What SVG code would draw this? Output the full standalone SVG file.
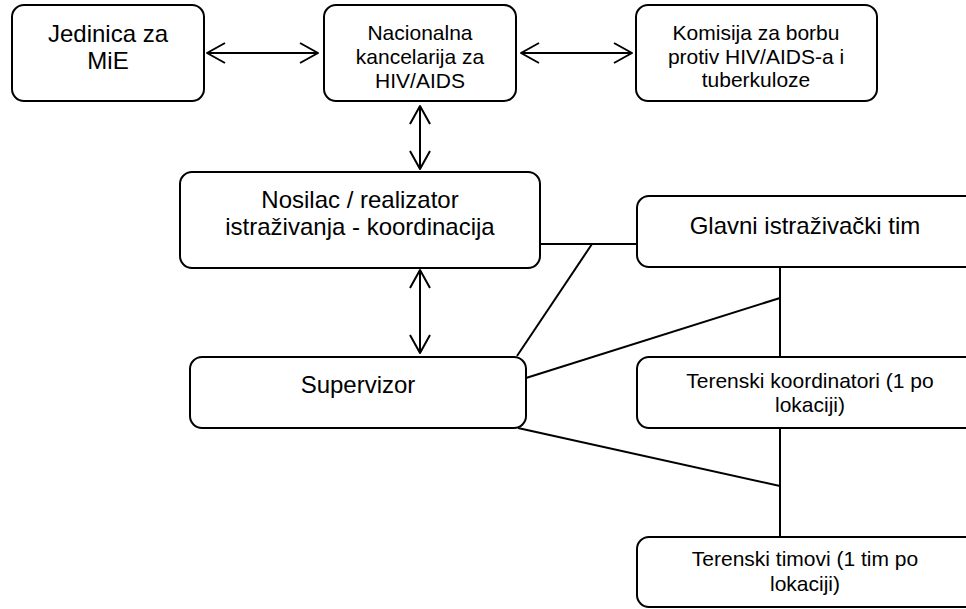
<svg xmlns="http://www.w3.org/2000/svg" width="966" height="609" viewBox="0 0 966 609">
<style>
.box{fill:#fff;stroke:#000;stroke-width:2}
.t{font-family:"Liberation Sans",Arial,sans-serif;fill:#000;text-anchor:middle}
.l{stroke:#000;stroke-width:2;fill:none}
</style>
<defs>
<marker id="arr" viewBox="0 0 22 24" refX="19" refY="12" markerWidth="22" markerHeight="24" markerUnits="userSpaceOnUse" orient="auto-start-reverse">
<path d="M1,2 L19,12 L1,22" fill="none" stroke="#000" stroke-width="2" stroke-linejoin="round"/>
</marker>
</defs>
<rect width="966" height="609" fill="#fff"/>
<g id="connectors">
<line class="l" x1="207" y1="53" x2="318" y2="53" marker-start="url(#arr)" marker-end="url(#arr)"/>
<line class="l" x1="521" y1="53" x2="632" y2="53" marker-start="url(#arr)" marker-end="url(#arr)"/>
<line class="l" x1="420" y1="106" x2="420" y2="169" marker-start="url(#arr)" marker-end="url(#arr)"/>
<line class="l" x1="420" y1="270" x2="420" y2="353" marker-start="url(#arr)" marker-end="url(#arr)"/>
<line class="l" x1="540" y1="244" x2="637" y2="244"/>
<line class="l" x1="592" y1="244" x2="517" y2="356"/>
<line class="l" x1="526" y1="378" x2="780" y2="298"/>
<line class="l" x1="780" y1="266" x2="780" y2="357"/>
<line class="l" x1="518" y1="428" x2="780" y2="486"/>
<line class="l" x1="780" y1="428" x2="780" y2="537"/>
</g>
<g id="jedinica">
<rect class="box" x="12" y="5" width="192" height="96" rx="12"/>
<text class="t" font-size="24"><tspan x="108" y="42">Jedinica za</tspan><tspan x="108" y="69">MiE</tspan></text>
</g>
<g id="nacionalna">
<rect class="box" x="324" y="5" width="192" height="96" rx="12"/>
<text class="t" font-size="21"><tspan x="420" y="40">Nacionalna</tspan><tspan x="420" y="64">kancelarija za</tspan><tspan x="420" y="88">HIV/AIDS</tspan></text>
</g>
<g id="komisija">
<rect class="box" x="636" y="5" width="241" height="96" rx="12"/>
<text class="t" font-size="21"><tspan x="756" y="40">Komisija za borbu</tspan><tspan x="756" y="63.5">protiv HIV/AIDS-a i</tspan><tspan x="756" y="87">tuberkuloze</tspan></text>
</g>
<g id="nosilac">
<rect class="box" x="180" y="172" width="360" height="96" rx="12"/>
<text class="t" font-size="24"><tspan x="360" y="208">Nosilac / realizator</tspan><tspan x="360" y="235">istraživanja - koordinacija</tspan></text>
</g>
<g id="glavni">
<rect class="box" x="637" y="196" width="340" height="71" rx="12"/>
<text class="t" font-size="24" x="805" y="234">Glavni istraživački tim</text>
</g>
<g id="supervizor">
<rect class="box" x="190" y="357" width="336" height="71" rx="12"/>
<text class="t" font-size="24" x="358" y="393">Supervizor</text>
</g>
<g id="koordinatori">
<rect class="box" x="637" y="357" width="340" height="71" rx="12"/>
<text class="t" font-size="21"><tspan x="810" y="388">Terenski koordinatori (1 po</tspan><tspan x="810" y="412">lokaciji)</tspan></text>
</g>
<g id="timovi">
<rect class="box" x="637" y="537" width="340" height="70" rx="12"/>
<text class="t" font-size="21"><tspan x="805" y="566">Terenski timovi (1 tim po</tspan><tspan x="805" y="591">lokaciji)</tspan></text>
</g>
</svg>
